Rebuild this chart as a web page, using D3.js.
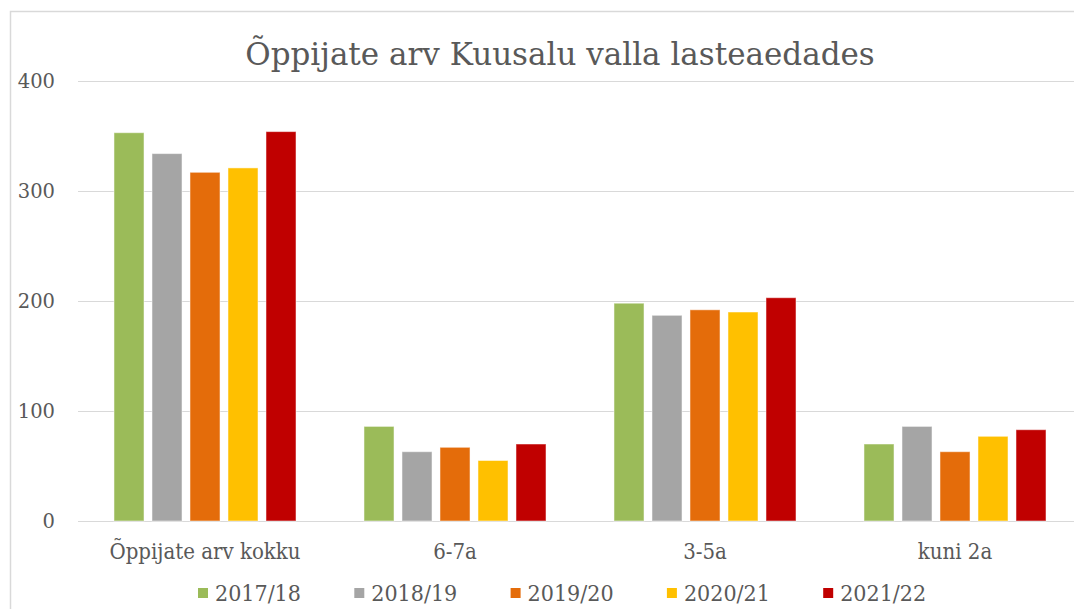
<!DOCTYPE html>
<meta charset="utf-8">
<style>
body { margin: 0; background: #fff; }
.grid line { stroke: #d9d9d9; stroke-width: 1.3; shape-rendering: crispEdges; }
.grid path { stroke-width: 0; }
text { fill: #595959; }
</style>
<body>
<svg width="1074" height="609"></svg>
<script src="https://d3js.org/d3.v7.min.js"></script>
<script>

var categories = ["Õppijate arv kokku", "6-7a", "3-5a", "kuni 2a"];
var years = ["2017/18", "2018/19", "2019/20", "2020/21", "2021/22"];
var colors = ["#9bbb59", "#a5a5a5", "#e46c0a", "#ffc000", "#c00000"];

var v2017 = [353, 86, 198, 70];
var v2018 = [334, 63, 187, 86];
var v2019 = [317, 67, 192, 63];
var v2020 = [321, 55, 190, 77];
var v2021 = [354, 70, 203, 83];
var series = [v2017, v2018, v2019, v2020, v2021];

var yTicks = [0, 100, 200, 300, 400];

var svg = d3.select("svg");

// outer chart border (runs off the right and bottom)
svg.append("rect")
	.attr("x", 10.5).attr("y", 11.5)
	.attr("width", 1100).attr("height", 700)
	.attr("fill", "none")
	.attr("stroke", "#d9d9d9")
	.attr("stroke-width", 1.5);

var y = d3.scaleLinear().domain([0, 400]).range([521, 81]);
var x0 = d3.scaleBand().domain(categories).range([80, 1080]).paddingInner(0.24).paddingOuter(0.12);
var x1 = d3.scaleBand().domain(years).range([0, x0.bandwidth()]).paddingInner(0.21).paddingOuter(0.105);

svg.append("g")
	.attr("class", "grid")
	.attr("transform", "translate(78,0)")
	.call(d3.axisLeft(y).tickValues(yTicks).tickSize(-1000).tickFormat(""));

// y labels
svg.selectAll(".ylab")
	.data(yTicks)
	.enter().append("text")
	.attr("class", "ylab")
	.attr("x", 55)
	.attr("y", function(d){ return y(d) + 7; })
	.attr("text-anchor", "end")
	.style("font-family", "DejaVu Serif")
	.style("font-size", "19.5px")
	.text(function(d){ return d; });

var groups = svg.selectAll(".cat")
	.data(categories)
	.enter().append("g")
	.attr("class", "cat")
	.attr("transform", function(d){ return "translate(" + x0(d) + ",0)"; });

groups.selectAll("rect")
	.data(function(d, ci){ return years.map(function(yr, si){ return {year: yr, i: si, v: series[si][ci]}; }); })
	.enter().append("rect")
	.attr("x", function(d){ return x1(d.year); })
	.attr("y", function(d){ return y(d.v); })
	.attr("width", x1.bandwidth())
	.attr("height", function(d){ return y(0) - y(d.v); })
	.attr("fill", function(d){ return colors[d.i]; })
	.attr("stroke", "#fff")
	.attr("stroke-opacity", 0.5)
	.attr("stroke-width", 1);

// category labels
svg.selectAll(".xlab")
	.data(categories)
	.enter().append("text")
	.attr("class", "xlab")
	.attr("x", function(d){ return x0(d) + x0.bandwidth() / 2; })
	.attr("y", 559)
	.attr("text-anchor", "middle")
	.style("font-family", "DejaVu Serif Condensed, DejaVu Serif")
	.style("font-size", "22px")
	.text(function(d){ return d; });

// title
svg.append("text")
	.attr("x", 560)
	.attr("y", 65)
	.attr("text-anchor", "middle")
	.style("font-family", "DejaVu Serif")
	.style("font-size", "31px")
	.text("Õppijate arv Kuusalu valla lasteaedades");

// legend
var legend = svg.selectAll(".leg")
	.data(years)
	.enter().append("g")
	.attr("class", "leg")
	.attr("transform", function(d, i){ return "translate(" + (198 + i * 156.3) + ",0)"; });

legend.append("rect")
	.attr("x", 0).attr("y", 588)
	.attr("width", 10).attr("height", 10)
	.attr("fill", function(d, i){ return colors[i]; });

legend.append("text")
	.attr("x", 17)
	.attr("y", 601)
	.style("font-family", "DejaVu Serif Condensed, DejaVu Serif")
	.style("font-size", "23px")
	.text(function(d){ return d; });

</script>
</body>
